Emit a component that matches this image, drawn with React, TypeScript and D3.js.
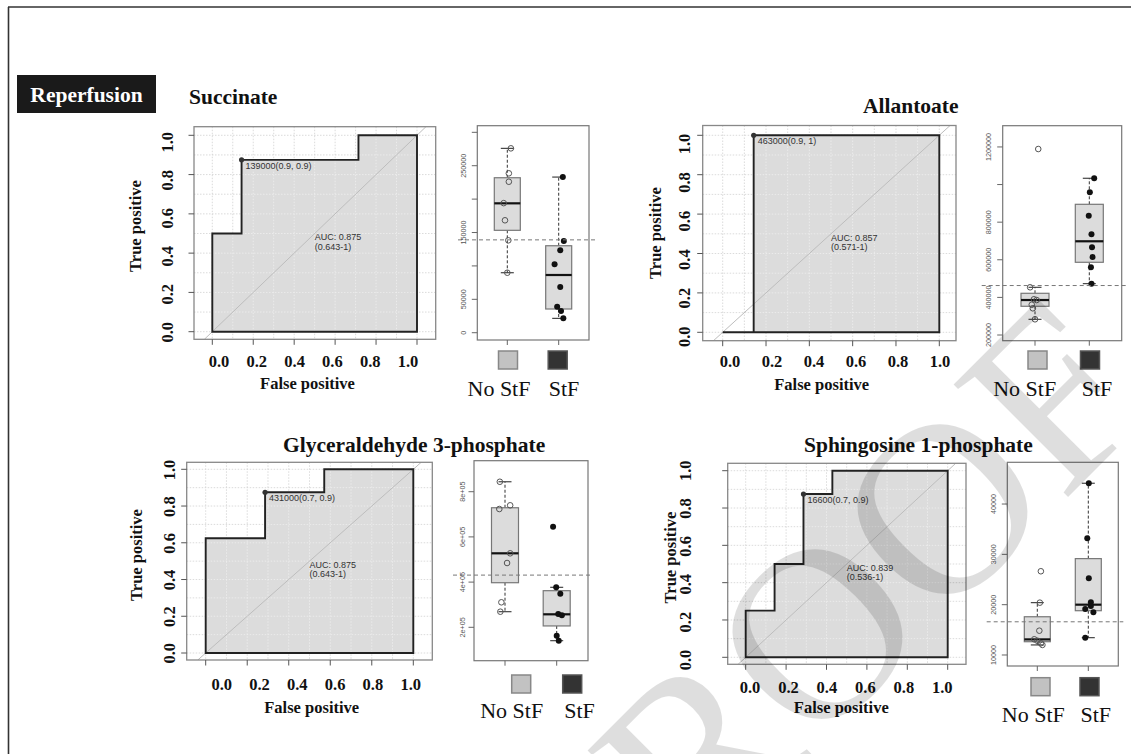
import React from "react";
import * as d3 from "d3";

const SERIF = "'Liberation Serif', 'Times New Roman', serif";
const SANS = "'Liberation Sans', Arial, sans-serif";

// ---------------- data ----------------
const panelTitles = ["Succinate", "Allantoate", "Glyceraldehyde 3-phosphate", "Sphingosine 1-phosphate"];
const groupNames = ["No StF", "StF"];
const sectionLabel = "Reperfusion";
const watermarkText = "PROOF";

const rocTickValues = [0, 0.2, 0.4, 0.6, 0.8, 1.0];
const rocTickLabels = ["0.0", "0.2", "0.4", "0.6", "0.8", "1.0"];
const rocGridValues = [0, 0.1, 0.2, 0.3, 0.4, 0.5, 0.6, 0.7, 0.8, 0.9, 1.0];

const succinateFpr = [0, 0, 0.143, 0.143, 0.714, 0.714, 1];
const succinateTpr = [0, 0.5, 0.5, 0.875, 0.875, 1, 1];
const allantoateFpr = [0, 0.143, 0.143, 1];
const allantoateTpr = [0, 0, 1, 1];
const g3pFpr = [0, 0, 0.286, 0.286, 0.571, 0.571, 1];
const g3pTpr = [0, 0.625, 0.625, 0.875, 0.875, 1, 1];
const s1pFpr = [0, 0, 0.143, 0.143, 0.286, 0.286, 0.429, 0.429, 1];
const s1pTpr = [0, 0.25, 0.25, 0.5, 0.5, 0.875, 0.875, 1, 1];

const bestFpr = [0.143, 0.143, 0.286, 0.286];
const bestTpr = [0.875, 1, 0.875, 0.875];
const bestLabels = ["139000(0.9, 0.9)", "463000(0.9, 1)", "431000(0.7, 0.9)", "16600(0.7, 0.9)"];
const aucLabels = ["AUC: 0.875", "AUC: 0.857", "AUC: 0.875", "AUC: 0.839"];
const ciLabels = ["(0.643-1)", "(0.571-1)", "(0.643-1)", "(0.536-1)"];
const cutoffs = [139000, 463000, 431000, 16600];

// box stats: [whisker low, Q1, median, Q3, whisker high]
const succinateNoStfBox = [89800, 153300, 193700, 232000, 276000];
const succinateStfBox = [21500, 35500, 86400, 130200, 233000];
const succinateNoStfValues = [276000, 238600, 226000, 194000, 168300, 138300, 89800];
const succinateNoStfJitter = [0.07, 0.03, 0.03, -0.07, -0.045, 0.02, 0];
const succinateStfValues = [233000, 137300, 123400, 102400, 68400, 38900, 32500, 21500];
const succinateStfJitter = [0.08, 0.1, 0.03, -0.08, 0.03, -0.03, 0.045, 0.09];

const allantoateNoStfBox = [283500, 352700, 386000, 421800, 453700];
const allantoateStfBox = [473000, 586700, 698400, 895000, 1033500];
const allantoateNoStfValues = [1189000, 453700, 390000, 361000, 342000, 283500, 386000];
const allantoateNoStfJitter = [0.06, -0.09, -0.02, -0.06, -0.04, 0, 0.03];
const allantoateStfValues = [1033500, 959000, 834600, 735600, 666500, 615000, 560000, 473000];
const allantoateStfJitter = [0.09, 0.01, -0.01, 0.04, 0.05, 0.06, 0.03, 0.04];

const g3pNoStfBox = [269000, 397300, 527400, 729000, 844000];
const g3pStfBox = [140700, 206000, 257500, 362000, 377000];
const g3pNoStfValues = [844000, 739800, 723400, 527400, 484500, 310600, 269000];
const g3pNoStfJitter = [-0.1, 0.1, -0.11, 0.1, 0.04, -0.07, -0.09];
const g3pStfValues = [645000, 377000, 348700, 258800, 253000, 162800, 140700];
const g3pStfJitter = [-0.07, -0.01, 0.07, 0.03, 0.1, 0, 0.04];

const s1pNoStfBox = [12000, 12640, 13100, 17600, 20400];
const s1pStfBox = [13440, 18800, 20000, 29150, 44130];
const s1pNoStfValues = [26640, 20400, 14830, 13120, 12840, 12330, 12000];
const s1pNoStfJitter = [0.07, 0.05, 0.04, -0.06, 0, 0.07, 0.1];
const s1pStfValues = [44130, 33200, 25250, 20480, 19740, 19150, 18490, 13440];
const s1pStfJitter = [0.01, -0.02, 0.01, 0.05, 0.05, -0.06, 0.1, -0.06];

const succinateTicks = [0, 50000, 100000, 150000, 200000, 250000, 300000];
const succinateTickLabels = [0, 50000, 150000, 250000];
const allantoateTicks = [200000, 400000, 600000, 800000, 1000000, 1200000];
const allantoateTickLabels = [200000, 400000, 600000, 800000, 1200000];
const g3pTicks = [200000, 400000, 600000, 800000];
const g3pTickLabels = [200000, 400000, 600000, 800000];
const s1pTicks = [10000, 20000, 30000, 40000];
const s1pTickLabels = [10000, 20000, 30000, 40000];

const rocFpr = [succinateFpr, allantoateFpr, g3pFpr, s1pFpr];
const rocTpr = [succinateTpr, allantoateTpr, g3pTpr, s1pTpr];
const boxStats = [
  [succinateNoStfBox, succinateStfBox],
  [allantoateNoStfBox, allantoateStfBox],
  [g3pNoStfBox, g3pStfBox],
  [s1pNoStfBox, s1pStfBox],
];
const boxValues = [
  [succinateNoStfValues, succinateStfValues],
  [allantoateNoStfValues, allantoateStfValues],
  [g3pNoStfValues, g3pStfValues],
  [s1pNoStfValues, s1pStfValues],
];
const boxJitter = [
  [succinateNoStfJitter, succinateStfJitter],
  [allantoateNoStfJitter, allantoateStfJitter],
  [g3pNoStfJitter, g3pStfJitter],
  [s1pNoStfJitter, s1pStfJitter],
];
const boxTicks = [succinateTicks, allantoateTicks, g3pTicks, s1pTicks];
const boxTickLabels = [succinateTickLabels, allantoateTickLabels, g3pTickLabels, s1pTickLabels];
const sciFmt = (v: number) => {
  const e = Math.floor(Math.log10(v));
  const m = v / Math.pow(10, e);
  return `${d3.format(".0f")(m)}e+${String(e).padStart(2, "0")}`;
};
const boxFormats = [(v: number) => String(v), (v: number) => String(v), sciFmt, (v: number) => String(v)];

// ---------------- layout ----------------
const rocLayouts = [
  { box: [194, 435.7, 126.7, 339.3], xr: [212.3, 417], yr: [331.7, 135.3], xLab: [219, 408], xLabY: 366.7, yLab: [332.3, 142.3], yLabX: 173, yTitle: [141, 226], xTitle: [307.5, 389], title: [189, 104] },
  { box: [702.7, 956, 125.5, 340.7], xr: [722.7, 939.3], yr: [332.3, 135.3], xLab: [730, 940], xLabY: 366.7, yLab: [336.7, 144], yLabX: 690, yTitle: [661, 233], xTitle: [821.7, 389.7], title: [863, 113] },
  { box: [186.7, 432.3, 462.3, 660], xr: [205.7, 413.3], yr: [653, 469.3], xLab: [221.7, 410.7], xLabY: 690, yLab: [653.3, 470], yLabX: 175, yTitle: [142, 555], xTitle: [311.7, 713], title: [283, 451.7] },
  { box: [727.7, 966, 463.3, 664.3], xr: [745.7, 947.7], yr: [657.3, 470.7], xLab: [750, 942.3], xLabY: 693.3, yLab: [660, 470.7], yLabX: 691, yTitle: [676, 557.5], xTitle: [841.3, 713], title: [804, 451.7] },
];

const boxLayouts = [
  { frame: [477.3, 589, 125.7, 340], domain: [-10900, 309900], g: [507.3, 558.7], bw: 26, labX: 466, thr: [458, 596], sq: [508, 557.7], sqY: 351, lab: [499, 564], labY: 396 },
  { frame: [1002.7, 1121.7, 125.7, 340.7], domain: [169700, 1313000], g: [1035, 1089.3], bw: 28, labX: 991, thr: [981.7, 1126.7], sq: [1037.5, 1090], sqY: 351, lab: [1024.7, 1097], labY: 396 },
  { frame: [474, 588, 460.7, 660.7], domain: [52200, 937200], g: [505, 556.7], bw: 27, labX: 465, thr: [453, 590], sq: [521.2, 572.2], sqY: 675, lab: [511.7, 579.5], labY: 718 },
  { frame: [1007.3, 1118.3, 462.3, 666], domain: [7814, 48290], g: [1037.3, 1088.3], bw: 26, labX: 996, thr: [986.7, 1123.3], sq: [1040.5, 1089.5], sqY: 677.7, lab: [1033.3, 1095.8], labY: 722 },
];

function RocPanel({ i }: { i: number }) {
  const L = rocLayouts[i];
  const x = d3.scaleLinear().domain([0, 1]).range(L.xr);
  const y = d3.scaleLinear().domain([0, 1]).range(L.yr);
  const xl = d3.scaleLinear().domain([0, 1]).range(L.xLab);
  const yl = d3.scaleLinear().domain([0, 1]).range(L.yLab);
  const [bx0, bx1, by0, by1] = L.box;
  const pts: [number, number][] = rocFpr[i].map((f, k) => [f, rocTpr[i][k]]);
  const line = d3.line<[number, number]>().x((d) => x(d[0])).y((d) => y(d[1]));
  const areaD = line([...pts, [1, 0], [0, 0]]) + "Z";
  const clipBox = `roc-box-${i}`;
  const clipArea = `roc-area-${i}`;
  const t0 = Math.max(x.invert(bx0), y.invert(by1));
  const t1 = Math.min(x.invert(bx1), y.invert(by0));
  return (
    <g>
      <defs>
        <clipPath id={clipBox}>
          <rect x={bx0} y={by0} width={bx1 - bx0} height={by1 - by0} />
        </clipPath>
        <clipPath id={clipArea}>
          <path d={areaD} />
        </clipPath>
      </defs>
      <text x={L.title[0]} y={L.title[1]} fontFamily={SERIF} fontWeight="bold" fontSize={21.5} fill="#111">
        {panelTitles[i]}
      </text>
      <rect x={bx0} y={by0} width={bx1 - bx0} height={by1 - by0} fill="#fff" />
      {rocGridValues.map((v) => (
        <g key={"g" + v}>
          <line x1={x(v)} x2={x(v)} y1={by0} y2={by1} stroke="#d2d2d2" strokeWidth={0.8} strokeDasharray="1.5,1.5" />
          <line x1={bx0} x2={bx1} y1={y(v)} y2={y(v)} stroke="#d2d2d2" strokeWidth={0.8} strokeDasharray="1.5,1.5" />
        </g>
      ))}
      <path d={areaD} fill="#dcdcdc" />
      <g clipPath={`url(#${clipArea})`}>
        {rocGridValues.map((v) => (
          <g key={"h" + v}>
            <line x1={x(v)} x2={x(v)} y1={by0} y2={by1} stroke="#efefef" strokeWidth={0.8} strokeDasharray="1.5,1.5" />
            <line x1={bx0} x2={bx1} y1={y(v)} y2={y(v)} stroke="#efefef" strokeWidth={0.8} strokeDasharray="1.5,1.5" />
          </g>
        ))}
      </g>
      <g clipPath={`url(#${clipBox})`}>
        <line x1={x(t0)} y1={y(t0)} x2={x(t1)} y2={y(t1)} stroke="#bdbdbd" strokeWidth={1} />
      </g>
      <path d={areaD} fill="none" stroke="#222" strokeWidth={1.9} />
      <circle cx={x(bestFpr[i])} cy={y(bestTpr[i])} r={2.6} fill="#333" />
      <text x={x(bestFpr[i]) + 4} y={y(bestTpr[i]) + 8.8} fontFamily={SANS} fontSize={9} fill="#333">
        {bestLabels[i]}
      </text>
      <text x={x(0.5)} y={y(0.465)} fontFamily={SANS} fontSize={9} fill="#333">
        {aucLabels[i]}
      </text>
      <text x={x(0.5)} y={y(0.465) + 9.8} fontFamily={SANS} fontSize={9} fill="#333">
        {ciLabels[i]}
      </text>
      <rect x={bx0} y={by0} width={bx1 - bx0} height={by1 - by0} fill="none" stroke="#888" strokeWidth={1.3} />
      {rocTickValues.map((v, k) => (
        <g key={"t" + v}>
          <line x1={x(v)} x2={x(v)} y1={by1} y2={by1 + 5.5} stroke="#555" strokeWidth={1} />
          <line x1={bx0 - 5.5} x2={bx0} y1={y(v)} y2={y(v)} stroke="#555" strokeWidth={1} />
          <text x={xl(v)} y={L.xLabY} textAnchor="middle" fontFamily={SERIF} fontWeight="bold" fontSize={16.5} fill="#111">
            {rocTickLabels[k]}
          </text>
          <text transform={`translate(${L.yLabX},${yl(v)}) rotate(-90)`} textAnchor="middle" fontFamily={SERIF} fontWeight="bold" fontSize={16.5} fill="#111">
            {rocTickLabels[k]}
          </text>
        </g>
      ))}
      <text x={L.xTitle[0]} y={L.xTitle[1]} textAnchor="middle" fontFamily={SERIF} fontWeight="bold" fontSize={16.5} fill="#111">
        False positive
      </text>
      <text transform={`translate(${L.yTitle[0]},${L.yTitle[1]}) rotate(-90)`} textAnchor="middle" fontFamily={SERIF} fontWeight="bold" fontSize={16.5} fill="#111">
        True positive
      </text>
    </g>
  );
}

function BoxPanel({ i }: { i: number }) {
  const L = boxLayouts[i];
  const [fx0, fx1, fy0, fy1] = L.frame;
  const y = d3.scaleLinear().domain(L.domain).range([fy1, fy0]);
  const x = d3.scaleLinear().domain([1, 2]).range(L.g);
  const fmt = boxFormats[i];
  return (
    <g>
      <rect x={fx0} y={fy0} width={fx1 - fx0} height={fy1 - fy0} fill="#fff" />
      {boxStats[i].map((s, gi) => {
        const cx = x(gi + 1);
        const hw = L.bw / 2;
        const [lo, q1, med, q3, hi] = s;
        return (
          <g key={"b" + gi}>
            <line x1={cx} x2={cx} y1={y(q3)} y2={y(hi)} stroke="#333" strokeWidth={1} strokeDasharray="3,2" />
            <line x1={cx} x2={cx} y1={y(q1)} y2={y(lo)} stroke="#333" strokeWidth={1} strokeDasharray="3,2" />
            <line x1={cx - 6.5} x2={cx + 6.5} y1={y(hi)} y2={y(hi)} stroke="#333" strokeWidth={1.1} />
            <line x1={cx - 6.5} x2={cx + 6.5} y1={y(lo)} y2={y(lo)} stroke="#333" strokeWidth={1.1} />
            <rect x={cx - hw} y={y(q3)} width={L.bw} height={y(q1) - y(q3)} fill="#dcdcdc" stroke="#777" strokeWidth={1.2} />
            <line x1={cx - hw} x2={cx + hw} y1={y(med)} y2={y(med)} stroke="#111" strokeWidth={2.2} />
          </g>
        );
      })}
      {boxValues[i].map((vals, gi) =>
        vals.map((v, k) =>
          gi === 0 ? (
            <circle key={`p${gi}-${k}`} cx={x(1 + boxJitter[i][gi][k])} cy={y(v)} r={2.8} fill="none" stroke="#555" strokeWidth={1} />
          ) : (
            <circle key={`p${gi}-${k}`} cx={x(2 + boxJitter[i][gi][k])} cy={y(v)} r={3} fill="#111" />
          )
        )
      )}
      <line x1={L.thr[0]} x2={L.thr[1]} y1={y(cutoffs[i])} y2={y(cutoffs[i])} stroke="#777" strokeWidth={1} strokeDasharray="4,3" />
      <rect x={fx0} y={fy0} width={fx1 - fx0} height={fy1 - fy0} fill="none" stroke="#777" strokeWidth={1.2} />
      {boxTicks[i].map((v) => (
        <line key={"t" + v} x1={fx0 - 5.5} x2={fx0} y1={y(v)} y2={y(v)} stroke="#666" strokeWidth={1} />
      ))}
      {boxTickLabels[i].map((v) => (
        <text key={"l" + v} transform={`translate(${L.labX},${y(v)}) rotate(-90)`} textAnchor="middle" fontFamily={SANS} fontSize={7.2} fill="#555">
          {fmt(v)}
        </text>
      ))}
      {groupNames.map((name, gi) => (
        <g key={name}>
          <line x1={x(gi + 1)} x2={x(gi + 1)} y1={fy1} y2={fy1 + 5} stroke="#666" strokeWidth={1} />
          <rect x={L.sq[gi] - 9.5} y={L.sqY} width={19} height={18} fill={gi === 0 ? "#c2c2c2" : "#333"} stroke={gi === 0 ? "#888" : "#555"} strokeWidth={1.5} />
          <text x={L.lab[gi]} y={L.labY} textAnchor="middle" fontFamily={SERIF} fontSize={22} fill="#111">
            {name}
          </text>
        </g>
      ))}
    </g>
  );
}

export default function App() {
  return (
    <div style={{ position: "absolute", left: 0, top: 0 }}>
      <svg width={1131} height={754} style={{ display: "block", background: "#fff" }}>
        <rect x={0} y={0} width={1131} height={754} fill="#fff" />
        <line x1={8.5} x2={8.5} y1={7} y2={754} stroke="#333" strokeWidth={1.6} />
        <line x1={8} x2={1131} y1={7} y2={7} stroke="#333" strokeWidth={1.6} />
        <rect x={17} y={75} width={139} height={38} fill="#1a1a1a" />
        <text x={86.5} y={101.7} textAnchor="middle" fontFamily={SERIF} fontWeight="bold" fontSize={21.5} fill="#fff">
          {sectionLabel}
        </text>
        {[0, 1, 2, 3].map((i) => (
          <g key={i}>
            <RocPanel i={i} />
            <BoxPanel i={i} />
          </g>
        ))}
        <text transform="translate(879,686) rotate(-45)" textAnchor="middle" fontFamily={SERIF} fontSize={245} fill="#000" fillOpacity={0.13}>
          {watermarkText}
        </text>
      </svg>
    </div>
  );
}
